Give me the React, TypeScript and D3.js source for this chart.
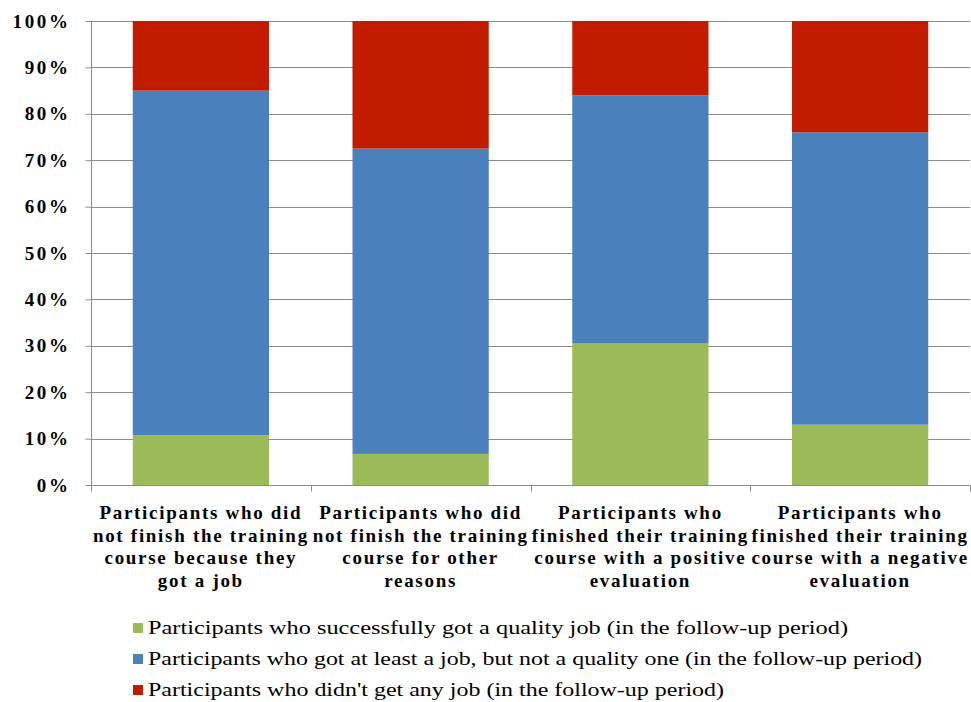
import * as d3 from "d3";
import { useEffect, useRef } from "react";

const categories = [
  ["Participants who did", "not finish the training", "course because they", "got a job"],
  ["Participants who did", "not finish the training", "course for other", "reasons"],
  ["Participants who", "finished their training", "course with a positive", "evaluation"],
  ["Participants who", "finished their training", "course with a negative", "evaluation"],
];
const seriesNames = [
  "Participants who successfully  got a quality job (in the follow-up period)",
  "Participants who got at least a job, but not a quality one (in the follow-up period)",
  "Participants who didn't get any job (in the follow-up period)",
];
const qualityJob = [10.7, 6.7, 30.5, 13.0];
const someJob = [74.3, 65.8, 53.5, 63.0];
const noJob = [15.0, 27.5, 16.0, 24.0];
const colors = ["#9BBB59", "#4A81BD", "#C21C00"];
const yTicks = [0, 10, 20, 30, 40, 50, 60, 70, 80, 90, 100];
const legendWidths = [700, 774, 576];

export default function App() {
  const ref = useRef<SVGSVGElement | null>(null);

  useEffect(() => {
    if (!ref.current) return;
    const width = 971;
    const height = 702;
    const margin = { top: 21, right: 1, bottom: 217, left: 91 };

    const svg = d3.select(ref.current);
    svg.selectAll("*").remove();

    const keys = categories.map((_, i) => String(i));
    const x = d3
      .scaleBand()
      .domain(keys)
      .range([margin.left, width - margin.right])
      .paddingInner(0.38)
      .paddingOuter(0.19);
    const xStep = d3
      .scaleBand()
      .domain(keys)
      .range([margin.left, width - margin.right]);
    const y = d3
      .scaleLinear()
      .domain([0, 100])
      .range([height - margin.bottom, margin.top]);

    // gridlines
    svg
      .append("g")
      .selectAll("line")
      .data(yTicks.slice(1))
      .join("line")
      .attr("x1", margin.left)
      .attr("x2", width - margin.right)
      .attr("y1", (d) => Math.round(y(d)) + 0.5)
      .attr("y2", (d) => Math.round(y(d)) + 0.5)
      .attr("stroke", "#8c8c8c")
      .attr("stroke-width", 1);

    const rows = categories.map((_, i) => ({
      key: String(i),
      a: qualityJob[i],
      b: someJob[i],
      c: noJob[i],
    }));
    const stack = d3.stack<any>().keys(["a", "b", "c"])(rows);

    svg
      .append("g")
      .selectAll("g")
      .data(stack)
      .join("g")
      .attr("fill", (_, i) => colors[i])
      .selectAll("rect")
      .data((d) => d)
      .join("rect")
      .attr("x", (d) => x(d.data.key)!)
      .attr("width", x.bandwidth())
      .attr("y", (d) => y(d[1]))
      .attr("height", (d) => y(d[0]) - y(d[1]));

    // y axis
    const yAxis = svg
      .append("g")
      .attr("transform", `translate(${margin.left + 0.5},0)`)
      .call(d3.axisLeft(y).tickValues(yTicks).tickFormat((d) => `${d}%`).tickSize(6).tickPadding(15));
    yAxis.select(".domain").attr("stroke", "#8c8c8c").attr("d", `M0,${y(100)}V${y(0)}`);
    yAxis.selectAll(".tick line").attr("stroke", "#8c8c8c");
    yAxis
      .selectAll(".tick text")
      .attr("fill", "#000")
      .attr("font-family", "'Liberation Serif', 'Times New Roman', serif")
      .attr("font-weight", "bold")
      .attr("font-size", 19)
      .attr("letter-spacing", 2.6);

    // x axis
    const xAxisG = svg
      .append("g")
      .attr("transform", `translate(0,${Math.round(y(0)) + 0.5})`);
    xAxisG
      .append("line")
      .attr("x1", margin.left)
      .attr("x2", width - margin.right)
      .attr("stroke", "#8c8c8c");
    xAxisG
      .selectAll("line.tk")
      .data([...keys.map((k) => xStep(k)!), width - margin.right - 0.5])
      .join("line")
      .attr("class", "tk")
      .attr("x1", (d) => Math.round(d) + 0.5)
      .attr("x2", (d) => Math.round(d) + 0.5)
      .attr("y1", 0)
      .attr("y2", 6)
      .attr("stroke", "#8c8c8c");

    // category labels
    const catG = svg.append("g");
    categories.forEach((lines, i) => {
      const cx = x(String(i))! + x.bandwidth() / 2;
      const t = catG
        .append("text")
        .attr("text-anchor", "middle")
        .attr("font-family", "'Liberation Serif', 'Times New Roman', serif")
        .attr("font-weight", "bold")
        .attr("font-size", 19)
        .attr("letter-spacing", 1.7)
        .attr("fill", "#000");
      lines.forEach((line, j) => {
        t.append("tspan")
          .attr("x", cx)
          .attr("y", 519 + j * 22.7)
          .text(line);
      });
    });

    // legend
    const legend = svg.append("g");
    seriesNames.forEach((name, i) => {
      const ly = 628 + i * 31;
      legend
        .append("rect")
        .attr("x", 133)
        .attr("y", ly - 5)
        .attr("width", 10)
        .attr("height", 10)
        .attr("fill", colors[i]);
      legend
        .append("text")
        .attr("x", 148)
        .attr("y", ly + 6)
        .attr("font-family", "'Liberation Serif', 'Times New Roman', serif")
        .attr("font-size", 19)
        .attr("textLength", legendWidths[i])
        .attr("lengthAdjust", "spacingAndGlyphs")
        .attr("fill", "#000")
        .text(name);
    });
  }, []);

  return (
    <svg
      ref={ref}
      width={971}
      height={702}
      style={{ position: "absolute", left: 0, top: 0, background: "#fff" }}
    />
  );
}
